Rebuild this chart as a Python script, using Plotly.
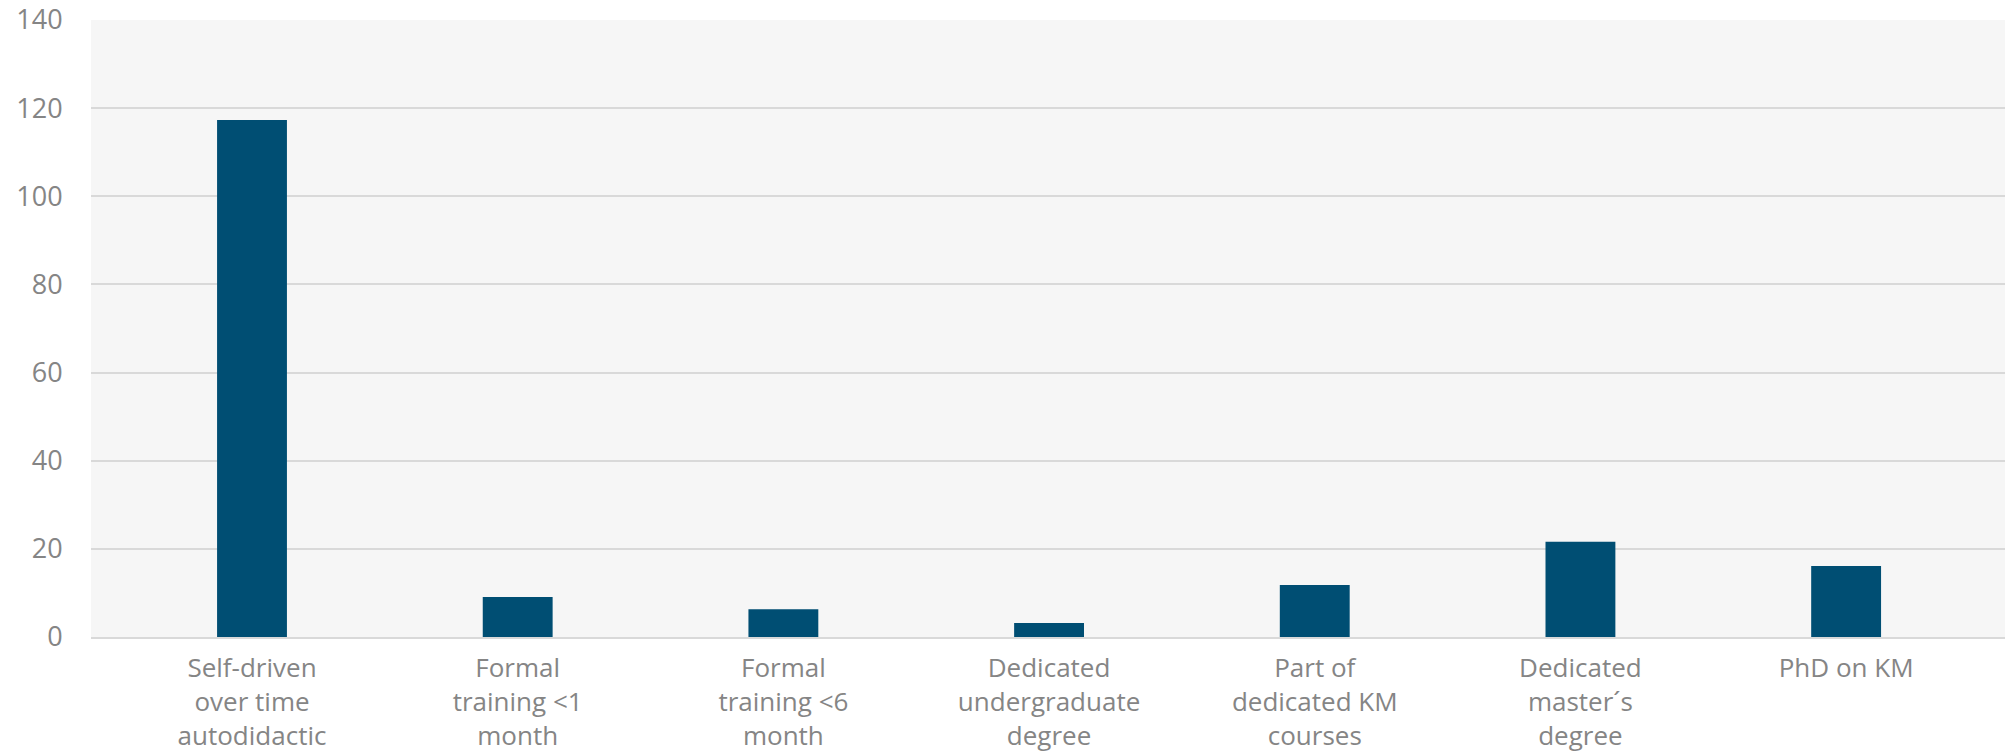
import plotly.graph_objects as go

categories = [
    "Self-driven<br>over time<br>autodidactic",
    "Formal<br>training <1<br>month",
    "Formal<br>training <6<br>month",
    "Dedicated<br>undergraduate<br>degree",
    "Part of<br>dedicated KM<br>courses",
    "Dedicated<br>master´s<br>degree",
    "PhD on KM",
]
values = [117.3, 9.1, 6.3, 3.2, 11.8, 21.6, 16.1]
y_ticks = [0, 20, 40, 60, 80, 100, 120, 140]

bar_color = "#004e73"
text_color = "#858585"
font_family = "Open Sans, Noto Sans, sans-serif"

x_idx = list(range(len(categories)))

fig = go.Figure(
    go.Bar(x=x_idx, y=values, marker=dict(color=bar_color, line=dict(width=0)), width=0.263)
)

fig.update_layout(
    width=2009,
    height=756,
    margin=dict(l=91, r=4, t=20, b=119),
    paper_bgcolor="white",
    plot_bgcolor="#f6f6f6",
    showlegend=False,
    font=dict(family=font_family, size=26, color=text_color),
)
fig.update_xaxes(
    tickmode="array",
    tickvals=x_idx,
    ticktext=categories,
    range=[-0.606, 6.598],
    tickangle=0,
    automargin=False,
    showgrid=False,
    zeroline=False,
    showline=True,
    linecolor="#d9d9d9",
    linewidth=2,
    ticks="outside",
    ticklen=7,
    tickcolor="rgba(0,0,0,0)",
    tickfont=dict(family=font_family, size=26, color=text_color),
)
fig.update_yaxes(
    range=[0, 140],
    tickmode="array",
    tickvals=y_ticks,
    automargin=False,
    showgrid=True,
    gridcolor="#d9d9d9",
    gridwidth=2,
    zeroline=False,
    showline=False,
    ticks="outside",
    ticklen=22,
    tickcolor="rgba(0,0,0,0)",
    tickfont=dict(family=font_family, size=27, color=text_color),
)

fig.write_html("out.html")
